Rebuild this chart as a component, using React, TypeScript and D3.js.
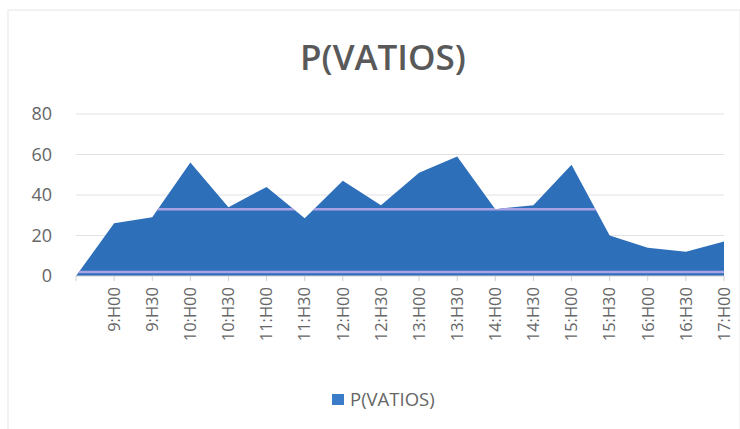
import React from "react";
import * as d3 from "d3";

const categories = ["", "9:H00", "9:H30", "10:H00", "10:H30", "11:H00", "11:H30", "12:H00", "12:H30", "13:H00", "13:H30", "14:H00", "14:H30", "15:H00", "15:H30", "16:H00", "16:H30", "17:H00"];
const values = [0, 26, 29, 56, 34, 44, 28.5, 47, 35, 51, 59, 33, 35, 55, 20, 14, 12, 17];
const yTicks = [0, 20, 40, 60, 80];
const title = "P(VATIOS)";
const seriesName = "P(VATIOS)";
const scanLines = [33, 2];

const W = 740, H = 429;
const left = 76, right = 724, top = 114, bottom = 276;

export default function App() {
  const x = d3.scalePoint<string>().domain(categories.map((c, i) => String(i))).range([left, right]);
  const y = d3.scaleLinear().domain([0, 80]).range([bottom, top]);
  const data = values.map((v, i) => ({ k: String(i), v }));
  const area = d3.area<{ k: string; v: number }>().x(d => x(d.k)!).y0(y(0)).y1(d => y(d.v));
  const pathD = area(data)!;
  return (
    <svg width={W} height={H} style={{ position: "absolute", left: 0, top: 0, background: "#fff" }}>
      <defs>
        <clipPath id="areaClip"><path d={pathD} /></clipPath>
      </defs>
      <rect x={8} y={10} width={W - 8} height={H - 6} fill="none" stroke="#e6e6e6" />
      <text x={383} y={70} textAnchor="middle" fontFamily="Open Sans, sans-serif" fontWeight={600} fontSize={35} fill="#595959">{title}</text>
      {yTicks.map(t => (
        <g key={t}>
          {t > 0 && <line x1={left} x2={right} y1={y(t)} y2={y(t)} stroke="#e2e2e2" />}
          <text x={52} y={y(t)} dy="0.35em" textAnchor="end" fontFamily="Open Sans, sans-serif" fontSize={18} fill="#666">{t}</text>
        </g>
      ))}
      <path d={pathD} fill="#2e6fba" />
      <g clipPath="url(#areaClip)">
        {scanLines.map(s => (
          <line key={s} x1={left} x2={right} y1={y(s)} y2={y(s)} stroke="#a9a3e6" strokeWidth={2.5} />
        ))}
      </g>
      <line x1={left} x2={right} y1={bottom} y2={bottom} stroke="#d0d0d0" />
      {categories.map((c, i) => {
        const xx = x(String(i))!;
        return (
          <g key={i}>
            <line x1={xx} x2={xx} y1={bottom} y2={bottom + 5} stroke="#d0d0d0" />
            <text transform={`translate(${xx},${bottom + 11}) rotate(-90)`} dy="0.35em" textAnchor="end" fontFamily="Open Sans, sans-serif" fontSize={16.5} fill="#666">{c}</text>
          </g>
        );
      })}
      <rect x={332} y={394} width={12} height={11} fill="#3a7cc8" />
      <text x={350} y={400} dy="0.35em" fontFamily="Open Sans, sans-serif" fontSize={18.5} fill="#666">{seriesName}</text>
    </svg>
  );
}
